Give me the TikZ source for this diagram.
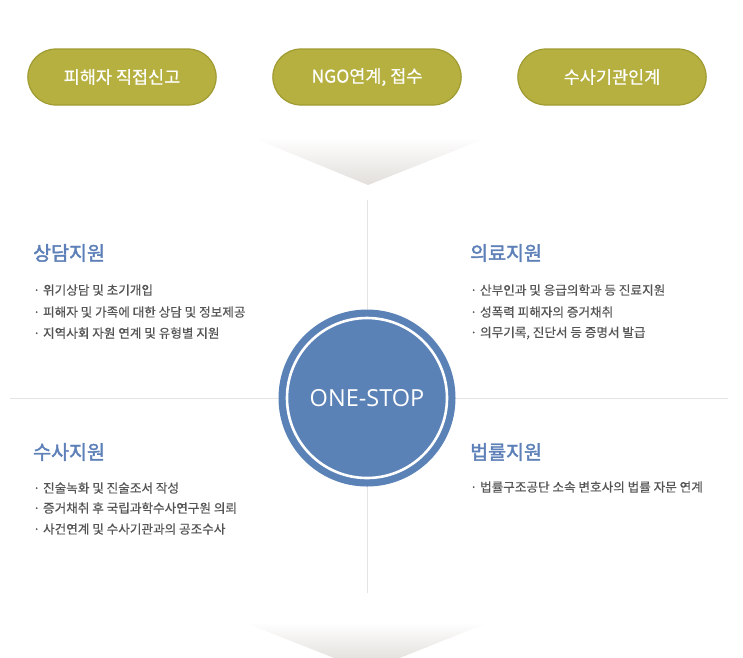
\documentclass[tikz,border=0pt]{standalone}
\usepackage{fontspec}
\setmainfont{Noto Sans CJK KR}
\newfontfamily\latinfont{Open Sans}
\newfontfamily\medfont[FakeBold=0.5]{Noto Sans CJK KR}
\newfontfamily\headfont[FakeBold=2]{Noto Sans CJK KR}
\usetikzlibrary{shapes.misc}
\definecolor{cOlive}{RGB}{181,176,64}
\definecolor{cOliveDk}{RGB}{160,155,50}
\definecolor{cBlue}{RGB}{91,130,183}
\definecolor{cHead}{RGB}{92,128,183}
\definecolor{cText}{RGB}{85,85,85}
\definecolor{cLine}{RGB}{228,228,228}
\definecolor{cArrow}{RGB}{226,223,219}

\begin{document}
\begin{tikzpicture}[x=1pt,y=-1pt,
    pill/.style={rounded rectangle,draw=cOliveDk,line width=1.2pt,fill=cOlive,text=white,
      minimum width=195pt,minimum height=56pt,font=\medfont\fontsize{17.5}{20}\selectfont},
    heading/.style={anchor=west,inner sep=0pt,text=cHead,font=\headfont\fontsize{19.5}{22}\selectfont},
    item/.style={anchor=west,inner sep=0pt,text=cText,font=\medfont\fontsize{12.6}{15}\selectfont}
  ]
  \useasboundingbox (0,0) rectangle (743,657);
  % Report channels
  \node[pill] (direct) at (122,77) {피해자 직접신고};
  \node[pill] (ngo)    at (367,77) {NGO연계, 접수};
  \node[pill] (police) at (612,77) {수사기관인계};
  % Chevrons
  \shade[top color=white,bottom color=cArrow] (251,137) -- (489,137) -- (368,185) -- cycle;
  \shade[top color=white,bottom color=cArrow!120] (243,622) -- (490,622) -- (367,671) -- cycle;
  % Cross
  \draw[cLine,line width=1pt] (367,200) -- (367,593);
  \draw[cLine,line width=1pt] (10,398) -- (728,398);
  % Hub
  \node[circle,fill=cBlue,minimum size=177pt,text=white,font=\latinfont\fontsize{23.5}{26}\selectfont]
    (hub) at (367,398) {ONE-STOP};
  \draw[white,line width=2.6pt] (hub.center) circle [radius=80pt];
  % Counseling
  \node[heading] (counsel) at (33,253) {상담지원};
  \foreach \n/\y/\t in {1/290/위기상담 및 초기개입, 2/312/피해자 및 가족에 대한 상담 및 정보제공,
      3/333/지역사회 자원 연계 및 유형별 지원}
    \node[item] (counsel\n) at (33,\y) {· \t};
  % Medical
  \node[heading] (medical) at (470,253) {의료지원};
  \foreach \n/\y/\t in {1/290/산부인과 및 응급의학과 등 진료지원, 2/312/성폭력 피해자의 증거채취,
      3/333/{의무기록, 진단서 등 증명서 발급}}
    \node[item] (medical\n) at (470,\y) {· \t};
  % Investigation
  \node[heading] (invest) at (33,452) {수사지원};
  \foreach \n/\y/\t in {1/488/진술녹화 및 진술조서 작성, 2/508/증거채취 후 국립과학수사연구원 의뢰,
      3/529/사건연계 및 수사기관과의 공조수사}
    \node[item] (invest\n) at (33,\y) {· \t};
  % Legal
  \node[heading] (legal) at (470,452) {법률지원};
  \node[item] (legal1) at (470,487) {· 법률구조공단 소속 변호사의 법률 자문 연계};
\end{tikzpicture}
\end{document}
